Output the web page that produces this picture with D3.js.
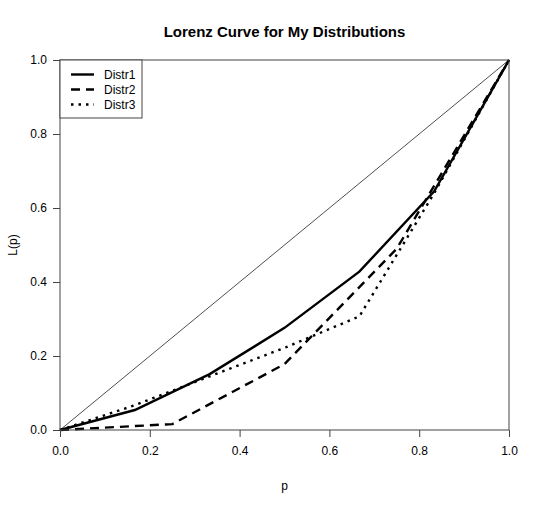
<!DOCTYPE html>
<html>
<head>
<meta charset="utf-8">
<script src="https://cdn.jsdelivr.net/npm/d3@7"></script>
<style>
  body { margin: 0; background: #fff; }
  text { font-family: "Liberation Sans", Arial, sans-serif; fill: #000; }
</style>
</head>
<body>
<div id="chart"></div>
<script>
///// DATA /////
const seriesNames = ["Distr1", "Distr2", "Distr3"];
const distr1P = [0, 1/6, 2/6, 3/6, 4/6, 5/6, 1];
const distr1L = [0, 0.054, 0.151, 0.276, 0.428, 0.645, 1];
const distr2P = [0, 0.25, 0.5, 0.75, 1];
const distr2L = [0, 0.016, 0.178, 0.49, 1];
const distr3P = [0, 1/6, 2/6, 3/6, 4/6, 5/6, 1];
const distr3L = [0, 0.067, 0.145, 0.222, 0.307, 0.64, 1];
const xTicks = [0, 0.2, 0.4, 0.6, 0.8, 1.0];
const yTicks = [0, 0.2, 0.4, 0.6, 0.8, 1.0];

///// CHART /////
const width = 540;
const height = 506;
const margin = {top: 60, right: 31, bottom: 75, left: 60};

const svg = d3.select("#chart").append("svg")
    .attr("width", width)
    .attr("height", height);

const x = d3.scaleLinear().domain([0, 1]).range([margin.left, width - margin.right]);
const y = d3.scaleLinear().domain([0, 1]).range([height - margin.bottom - 1, margin.top]);

// line styles per series
const dashes = [null, "9,6", "2.5,5"];
const series = [
    distr1P.map((p, i) => [p, distr1L[i]]),
    distr2P.map((p, i) => [p, distr2L[i]]),
    distr3P.map((p, i) => [p, distr3L[i]])
];

const line = d3.line().x(d => x(d[0])).y(d => y(d[1]));

// line of equality
svg.append("path")
    .attr("d", line([[0, 0], [1, 1]]))
    .attr("fill", "none")
    .attr("stroke", "#222")
    .attr("stroke-width", 0.8);

series.forEach((s, i) => {
    svg.append("path")
        .attr("d", line(s))
        .attr("fill", "none")
        .attr("stroke", "#000")
        .attr("stroke-width", 2.4)
        .attr("stroke-dasharray", dashes[i]);
});

// frame
svg.append("rect")
    .attr("x", x(0))
    .attr("y", y(1))
    .attr("width", x(1) - x(0))
    .attr("height", y(0) - y(1))
    .attr("fill", "none")
    .attr("stroke", "#444")
    .attr("stroke-width", 1);

// axes
const xAxis = svg.append("g")
    .attr("transform", `translate(0,${y(0)})`)
    .call(d3.axisBottom(x).tickValues(xTicks).tickFormat(d3.format(".1f")).tickSize(7).tickPadding(9));
const yAxis = svg.append("g")
    .attr("transform", `translate(${x(0)},0)`)
    .call(d3.axisLeft(y).tickValues(yTicks).tickFormat(d3.format(".1f")).tickSize(7).tickPadding(6));

[xAxis, yAxis].forEach(g => {
    g.select(".domain").remove();
    g.selectAll(".tick line").attr("stroke", "#444");
    g.selectAll(".tick text")
        .style("font-family", "'Liberation Sans', Arial, sans-serif")
        .style("font-size", "12px")
        .attr("fill", "#000");
});

// title and labels
svg.append("text")
    .attr("x", (x(0) + x(1)) / 2)
    .attr("y", 37)
    .attr("text-anchor", "middle")
    .attr("fill", "#000")
    .style("font-size", "15px")
    .style("font-weight", "bold")
    .text("Lorenz Curve for My Distributions");

svg.append("text")
    .attr("x", (x(0) + x(1)) / 2)
    .attr("y", 490)
    .attr("text-anchor", "middle")
    .attr("fill", "#000")
    .style("font-size", "12px")
    .text("p");

svg.append("text")
    .attr("transform", `translate(17,${(y(0) + y(1)) / 2}) rotate(-90)`)
    .attr("text-anchor", "middle")
    .attr("fill", "#000")
    .style("font-size", "12px")
    .text("L(p)");

// legend
const legend = svg.append("g").attr("transform", `translate(${x(0)},${y(1)})`);
legend.append("rect")
    .attr("width", 82)
    .attr("height", 58)
    .attr("fill", "#fff")
    .attr("stroke", "#444")
    .attr("stroke-width", 1);

seriesNames.forEach((name, i) => {
    const ly = 14.5 + i * 15;
    legend.append("line")
        .attr("x1", 11).attr("x2", 34)
        .attr("y1", ly).attr("y2", ly)
        .attr("stroke", "#000")
        .attr("stroke-width", 2.4)
        .attr("stroke-dasharray", dashes[i]);
    legend.append("text")
        .attr("x", 44)
        .attr("y", ly)
        .attr("dy", "0.35em")
        .attr("fill", "#000")
        .style("font-size", "12px")
        .text(name);
});
</script>
</body>
</html>
